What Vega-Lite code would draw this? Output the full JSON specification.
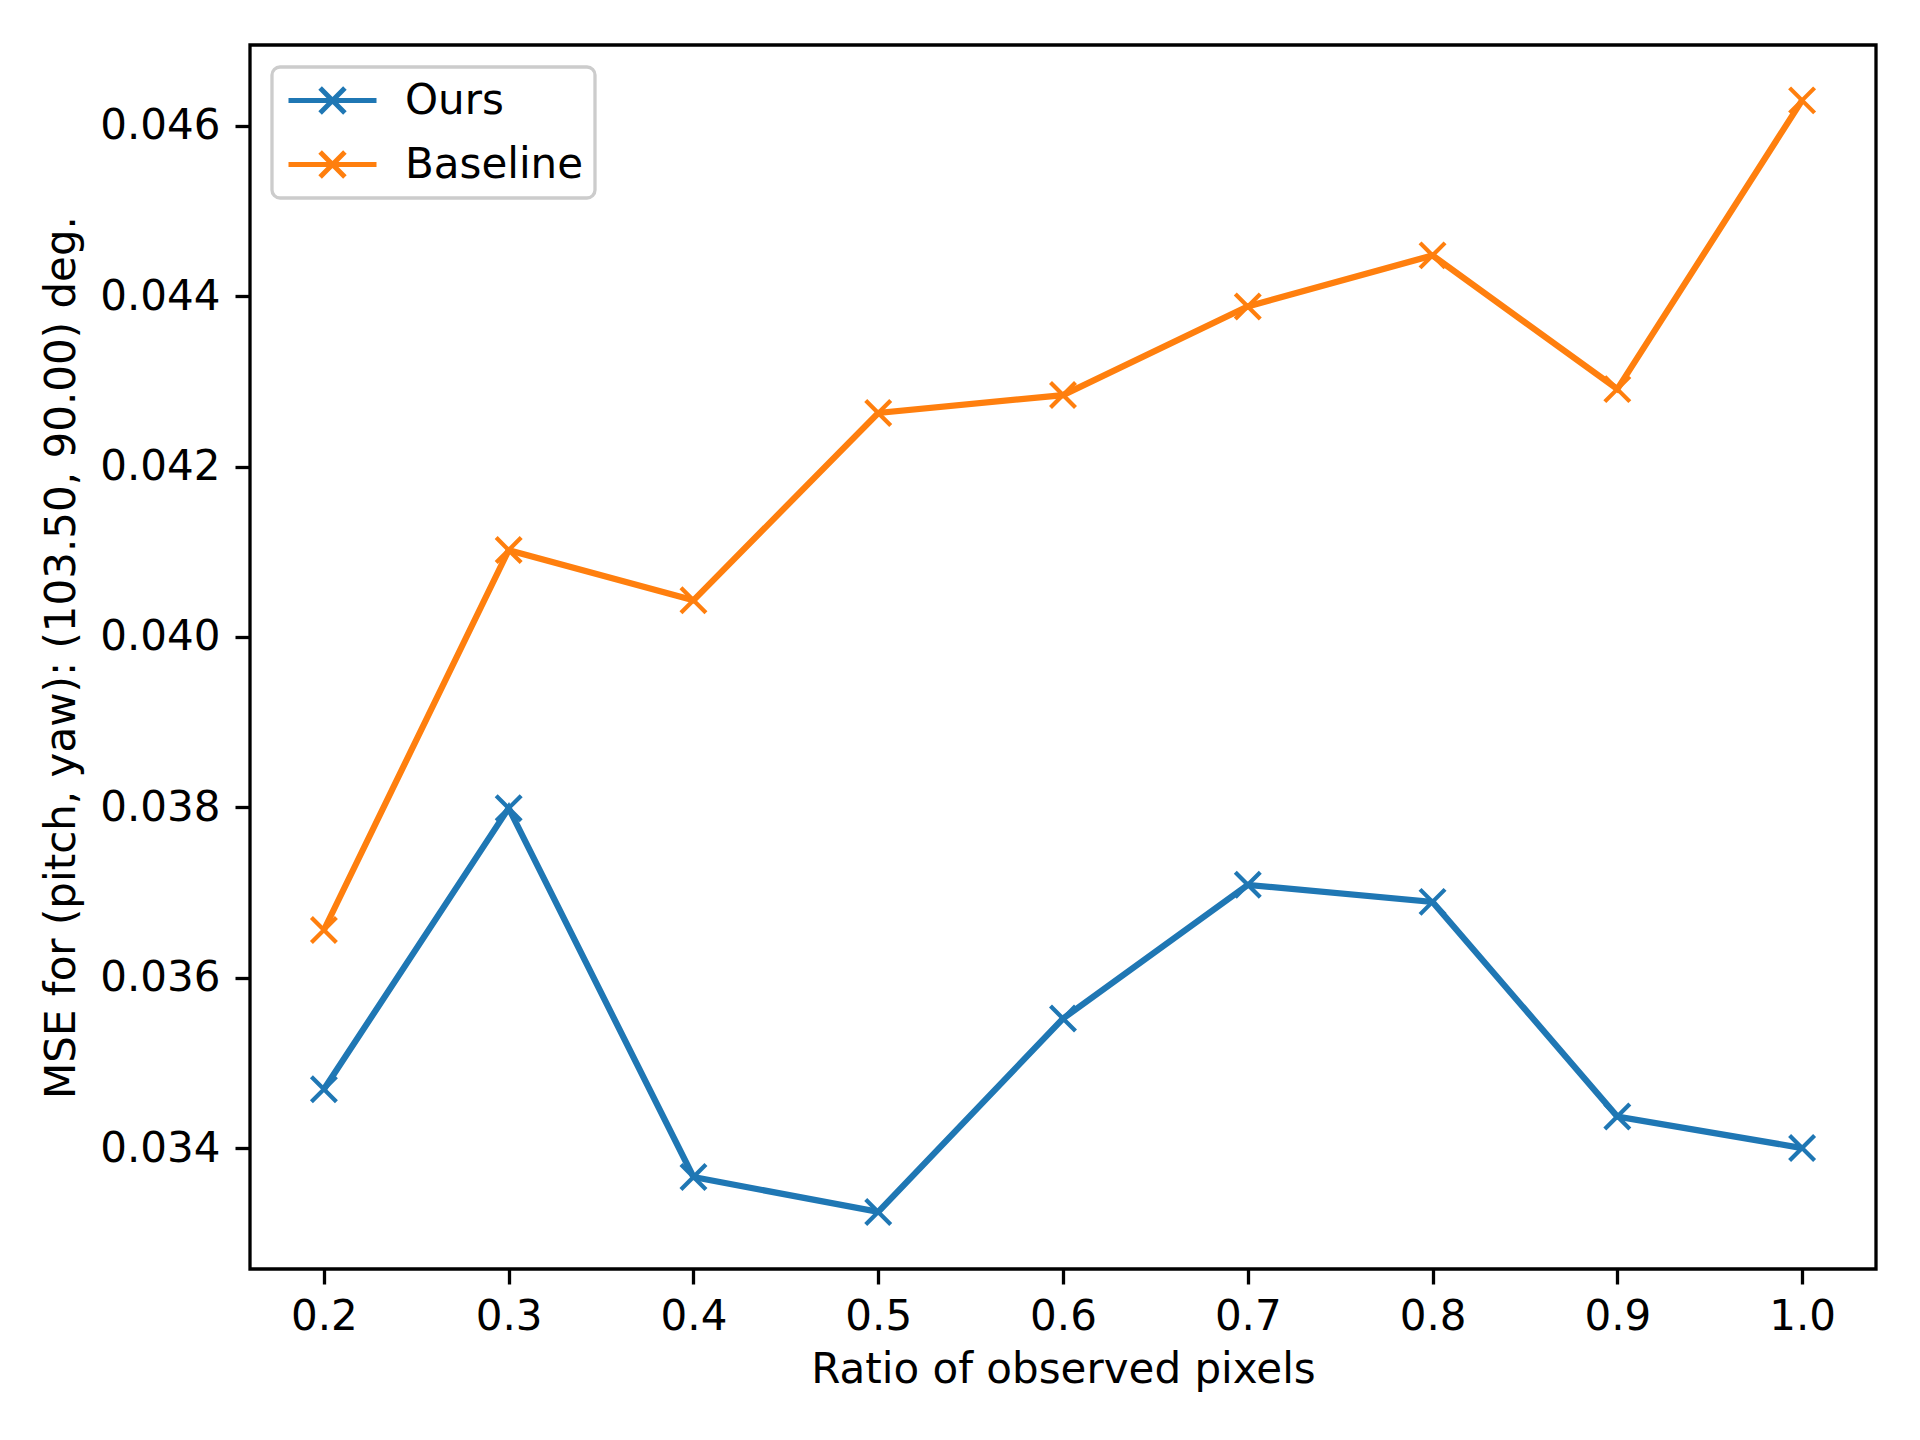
{
  "$schema": "https://vega.github.io/schema/vega-lite/v6.json",
  "description": "MSE vs ratio of observed pixels, Ours vs Baseline",
  "width": 1626,
  "height": 1224,
  "autosize": "none",
  "padding": {"left": 250, "top": 45, "right": 44, "bottom": 171},
  "background": "white",
  "config": {
    "font": "DejaVu Sans",
    "view": {"stroke": "black", "strokeWidth": 3.3},
    "axis": {
      "domain": false,
      "grid": false,
      "tickColor": "black",
      "tickWidth": 3.3,
      "tickSize": 15,
      "labelFont": "DejaVu Sans",
      "labelFontSize": 42,
      "labelColor": "black",
      "titleFont": "DejaVu Sans",
      "titleFontSize": 42,
      "titleFontWeight": "normal",
      "titleColor": "black"
    }
  },
  "data": {
    "values": [
      {"ratio": 0.2, "series": "Ours", "mse": 0.03469},
      {"ratio": 0.3, "series": "Ours", "mse": 0.03799},
      {"ratio": 0.4, "series": "Ours", "mse": 0.03366},
      {"ratio": 0.5, "series": "Ours", "mse": 0.03325},
      {"ratio": 0.6, "series": "Ours", "mse": 0.03552},
      {"ratio": 0.7, "series": "Ours", "mse": 0.03709},
      {"ratio": 0.8, "series": "Ours", "mse": 0.03689},
      {"ratio": 0.9, "series": "Ours", "mse": 0.03437},
      {"ratio": 1.0, "series": "Ours", "mse": 0.03400},
      {"ratio": 0.2, "series": "Baseline", "mse": 0.03656},
      {"ratio": 0.3, "series": "Baseline", "mse": 0.04102},
      {"ratio": 0.4, "series": "Baseline", "mse": 0.04043},
      {"ratio": 0.5, "series": "Baseline", "mse": 0.04263},
      {"ratio": 0.6, "series": "Baseline", "mse": 0.04284},
      {"ratio": 0.7, "series": "Baseline", "mse": 0.04388},
      {"ratio": 0.8, "series": "Baseline", "mse": 0.04448},
      {"ratio": 0.9, "series": "Baseline", "mse": 0.04291},
      {"ratio": 1.0, "series": "Baseline", "mse": 0.04630}
    ]
  },
  "encoding": {
    "x": {
      "field": "ratio",
      "type": "quantitative",
      "title": "Ratio of observed pixels",
      "scale": {"domain": [0.16, 1.04], "nice": false, "zero": false},
      "axis": {
        "values": [0.2, 0.3, 0.4, 0.5, 0.6, 0.7, 0.8, 0.9, 1.0],
        "format": ".1f",
        "labelPadding": 12,
        "titlePadding": 12
      }
    },
    "y": {
      "field": "mse",
      "type": "quantitative",
      "title": "MSE for (pitch, yaw): (103.50, 90.00) deg.",
      "scale": {"domain": [0.03258, 0.04695], "nice": false, "zero": false},
      "axis": {
        "values": [0.034, 0.036, 0.038, 0.04, 0.042, 0.044, 0.046],
        "format": ".3f",
        "labelPadding": 15,
        "titlePadding": 16
      }
    },
    "color": {
      "field": "series",
      "type": "nominal",
      "scale": {"domain": ["Ours", "Baseline"], "range": ["#1f77b4", "#ff7f0e"]},
      "legend": {
        "title": null,
        "orient": "none",
        "legendX": 22,
        "legendY": 22,
        "padding": 11,
        "fillColor": "rgba(255,255,255,0.8)",
        "strokeColor": "#cccccc",
        "cornerRadius": 8,
        "symbolType": "M-2.2,0L2.2,0M-0.62,-0.62L0.62,0.62M-0.62,0.62L0.62,-0.62",
        "symbolSize": 1600,
        "symbolStrokeWidth": 5,
        "symbolFillColor": "transparent",
        "symbolOffset": 27,
        "labelOffset": 50,
        "labelFontSize": 42,
        "labelFont": "DejaVu Sans",
        "labelColor": "black",
        "labelLimit": 0,
        "rowPadding": 19,
        "encode": {"legend": {"update": {"strokeWidth": {"value": 3.3}}}}
      }
    }
  },
  "layer": [
    {"mark": {"type": "line", "strokeWidth": 6.25}},
    {
      "mark": {
        "type": "point",
        "shape": "M-1,-1L1,1M-1,1L1,-1",
        "size": 625,
        "filled": false,
        "strokeWidth": 4.2,
        "opacity": 1
      }
    }
  ]
}
